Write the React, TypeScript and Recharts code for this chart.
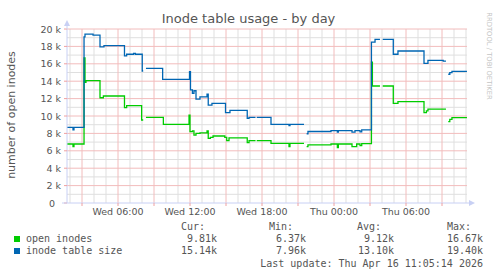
import React from 'react';
import { LineChart, Line, XAxis, YAxis, CartesianGrid } from 'recharts';

// time = hours since Wed 00:00 (graph covers Wed 01:45 .. Thu 11:05)
// each pair holds the value from that time until the next pair; null = no data
const openInodes: [number, number | null][] = [
  [1.75, 6780], [2.25, 6470], [2.33, 6780], [3.17, 16670], [3.25, 13870], [3.33, 14060],
  [4.5, 12100], [4.78, 12300], [6.54, 10960], [6.72, 11190], [7.97, 9540], [8.1, null],
  [8.33, 9850], [9.78, 9040], [11.92, 10100], [12.0, 8200], [12.2, 8300], [12.33, 7800],
  [12.5, 8000], [12.83, 8070], [13.42, 8300], [13.52, 7430], [13.7, 7550], [13.92, 7700],
  [14.9, 7550], [15.06, 7160], [15.25, 7480], [16.77, 6930], [16.92, 7160], [17.46, null],
  [17.56, 7160], [18.75, 6860], [20.25, 6470], [20.33, 6860], [21.5, null], [21.72, 6470],
  [21.83, 6670], [23.75, 6780], [24.28, 6370], [24.36, 6780], [25.5, 6470], [25.89, 6780],
  [26.17, 6600], [26.31, 6820], [27.12, 16200], [27.2, 13450], [27.83, null], [28.06, 13450],
  [28.94, 11460], [29.33, 11650], [31.5, 10380], [31.7, 10600], [31.83, 10800], [33.33, null],
  [33.52, 9350], [33.65, 9620], [33.83, 9810], [35.08, 9810],
];

const tableSize: [number, number | null][] = [
  [1.75, 8700], [2.25, 8420], [2.33, 8700], [3.17, 19100], [3.25, 19400], [3.92, 19300],
  [4.5, 17950], [4.83, 18080], [6.54, 16900], [6.72, 17100], [7.3, 17200], [7.45, 17100],
  [8.02, 15170], [8.1, null], [8.33, 15480], [9.72, 14200], [11.96, 15100], [12.04, 13000],
  [12.2, 12600], [12.33, 12900], [12.5, 11950], [12.83, 12200], [13.42, 12500], [13.52, 11260],
  [13.83, 11460], [14.96, 10380], [15.33, 10650], [16.77, 9730], [16.92, 9850], [17.46, null],
  [17.56, 9850], [18.75, 9040], [20.25, 8900], [20.33, 9040], [21.5, null], [21.72, 7960],
  [21.83, 8220], [23.75, 8330], [24.28, 8150], [24.36, 8330], [25.5, 8150], [25.75, 8330],
  [26.17, 8180], [26.31, 8400], [27.12, 18500], [27.42, 18800], [27.83, null], [28.06, 18800],
  [28.94, 17100], [29.33, 17470], [31.5, 16050], [31.83, 16400], [33.1, 16300], [33.33, null],
  [33.52, 14800], [33.65, 14980], [33.83, 15140], [35.08, 15140],
];

const xTicks = [3, 6, 9, 12, 15, 18, 21, 24, 27, 30, 33];
const xLabels: Record<number, string> = {
  6: 'Wed 06:00', 12: 'Wed 12:00', 18: 'Wed 18:00', 24: 'Thu 00:00', 30: 'Thu 06:00',
};
const yTicks = [0, 2000, 4000, 6000, 8000, 10000, 12000, 14000, 16000, 18000, 20000];
const minorHours = [2, 4, 5, 7, 8, 10, 11, 13, 14, 16, 17, 19, 20, 22, 23, 25, 26, 28, 29, 31, 32, 34, 35];
const minorValues = [1000, 3000, 5000, 7000, 9000, 11000, 13000, 15000, 17000, 19000];

const legendRows = [
  { name: 'open inodes', color: '#00cc00', cur: '9.81k', min: '6.37k', avg: '9.12k', max: '16.67k' },
  { name: 'inode table size', color: '#0066b3', cur: '15.14k', min: '7.96k', avg: '13.10k', max: '19.40k' },
];
const lastUpdate = 'Last update: Thu Apr 16 11:05:14 2026';

// dotted rrdtool grid, drawn as light solid lines
const MAJOR = '#f2bcbc';
const MINOR = '#dfdfdf';
const AXIS = '#c8d0f4';
const FONT = '#555555';

// close the step before each gap so the last level reaches the gap
function toSteps(pairs: [number, number | null][]) {
  const out: { t: number; v: number | null }[] = [];
  let prev: number | null = null;
  for (const [t, v] of pairs) {
    if (v === null && prev !== null) out.push({ t, v: prev });
    out.push({ t, v });
    prev = v;
  }
  return out;
}

const openData = toSteps(openInodes);
const tableData = toSteps(tableSize);

const YTick = (props: any) => {
  const { x, y, payload } = props;
  const v = payload.value as number;
  return (
    <text x={v === 0 ? x - 6 : x} y={y} dy={3.5} textAnchor="end" fill={FONT} fontSize={9.5} fontFamily="DejaVu Sans">
      {v === 0 ? '0' : `${v / 1000} k`}
    </text>
  );
};

const mono: React.CSSProperties = {
  position: 'absolute', fontFamily: 'DejaVu Sans Mono', fontSize: 10, color: FONT,
  lineHeight: '12px', whiteSpace: 'pre',
};

export default function App() {
  const cols = [217, 306, 394, 483];
  return (
    <div style={{ position: 'absolute', left: 0, top: 0, width: 497, height: 276, background: '#fff', fontFamily: 'DejaVu Sans' }}>
      <div style={{ position: 'absolute', left: 0, width: 497, top: 11, textAlign: 'center', fontSize: 13, color: FONT, lineHeight: '16px' }}>
        Inode table usage - by day
      </div>
      <div style={{ position: 'absolute', left: 11, top: 115, transform: 'translate(-50%, -50%) rotate(-90deg)', fontSize: 11, color: FONT, whiteSpace: 'nowrap' }}>
        number of open inodes
      </div>
      <div style={{ position: 'absolute', left: 489, top: 56, transform: 'translate(-50%, -50%) rotate(90deg)', fontSize: 6.8, color: '#c4c4c4', whiteSpace: 'nowrap' }}>
        RRDTOOL / TOBI OETIKER
      </div>

      <div style={{ position: 'absolute', left: 0, top: 0 }}>
        <LineChart width={497} height={276} data={openData} margin={{ top: 29, right: 30, bottom: 53, left: 27 }}>
          <CartesianGrid verticalValues={minorHours} horizontalValues={minorValues} stroke={MINOR} />
          <CartesianGrid verticalValues={xTicks} horizontalValues={yTicks.filter((v) => v > 0)} stroke={MAJOR} />
          <XAxis
            type="number"
            dataKey="t"
            domain={[1.75, 35.0833]}
            allowDataOverflow
            ticks={xTicks}
            interval={0}
            tickFormatter={(h: number) => xLabels[h] ?? ''}
            height={20}
            tickSize={3}
            tickMargin={2}
            stroke={AXIS}
            tickLine={{ stroke: '#f0a0a0' }}
            tick={{ fill: FONT, fontSize: 9.5, fontFamily: 'DejaVu Sans' }}
          />
          <YAxis
            type="number"
            domain={[0, 20000]}
            allowDataOverflow
            ticks={yTicks}
            interval={0}
            width={40}
            tickSize={3}
            tickMargin={3}
            stroke={AXIS}
            tickLine={{ stroke: '#f0a0a0' }}
            tick={<YTick />}
          />
          <Line dataKey="v" type="stepAfter" stroke="#00cc00" strokeWidth={1.3} dot={false} isAnimationActive={false} connectNulls={false} />
          <Line data={tableData} dataKey="v" type="stepAfter" stroke="#0066b3" strokeWidth={1.3} dot={false} isAnimationActive={false} connectNulls={false} />
        </LineChart>
      </div>

      <svg style={{ position: 'absolute', left: 0, top: 0 }} width={497} height={276}>
        <line x1={67} y1={29} x2={67} y2={25} stroke={AXIS} />
        <polygon points="67,20 64,26 70,26" fill={AXIS} />
        <line x1={62} y1={203} x2={67} y2={203} stroke={AXIS} />
        <line x1={467} y1={203} x2={470} y2={203} stroke={AXIS} />
        <polygon points="475,203 469,200 469,206" fill={AXIS} />
      </svg>

      {['Cur:', 'Min:', 'Avg:', 'Max:'].map((h, i) => (
        <div key={h} style={{ ...mono, top: 221, left: [181, 269, 357, 447][i] }}>{h}</div>
      ))}
      {legendRows.map((r, i) => {
        const top = 233 + i * 12.4;
        return (
          <React.Fragment key={r.name}>
            <div style={{ position: 'absolute', left: 14, top: top + 3, width: 6, height: 6, background: r.color }} />
            <div style={{ ...mono, top, left: 26 }}>{r.name}</div>
            {[r.cur, r.min, r.avg, r.max].map((v, j) => (
              <div key={j} style={{ ...mono, top, right: 497 - cols[j] }}>{v}</div>
            ))}
          </React.Fragment>
        );
      })}
      <div style={{ ...mono, top: 257.5, right: 497 - 483 }}>{lastUpdate}</div>
    </div>
  );
}
